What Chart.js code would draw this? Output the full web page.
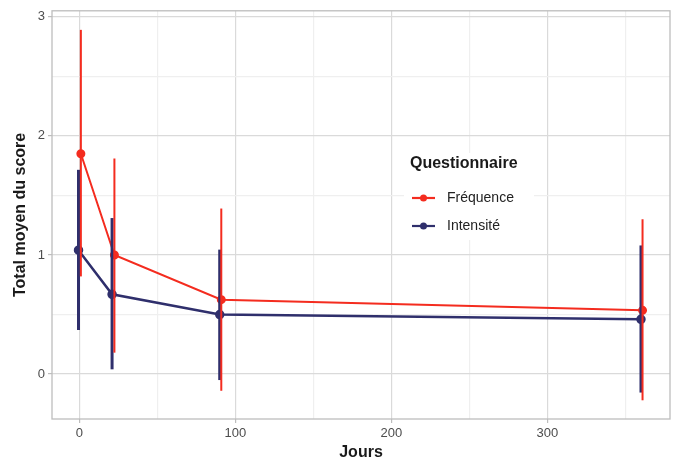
<!DOCTYPE html>
<html>
<head>
<meta charset="utf-8">
<script src="https://cdn.jsdelivr.net/npm/chart.js@4/dist/chart.umd.min.js"></script>
<style>
html,body{margin:0;padding:0;background:#fff;}
#wrap{width:677px;height:467px;}
</style>
</head>
<body>
<div id="wrap"><canvas id="c" width="677" height="467"></canvas></div>
<script>
// ---- data ----
const seriesNames = ["Fréquence", "Intensité"];
const legendTitle = "Questionnaire";
const xTitle = "Jours";
const yTitle = "Total moyen du score";

const freqDays = [1, 22.5, 91, 361];
const freqMean = [1.85, 1.00, 0.625, 0.535];
const freqLow  = [0.82, 0.18, -0.14, -0.22];
const freqHigh = [2.89, 1.81, 1.39, 1.30];

const intDays = [-0.5, 21, 90, 360];
const intMean = [1.04, 0.67, 0.50, 0.46];
const intLow  = [0.37, 0.04, -0.05, -0.155];
const intHigh = [1.715, 1.31, 1.045, 1.08];

const xTicks = [0, 50, 100, 150, 200, 250, 300, 350];
const yTicks = [0, 0.5, 1, 1.5, 2, 2.5, 3];

// ---- style ----
const RED = "#F42C1F";
const NAVY = "#2F2F6C";
const FONT = "'Liberation Sans', Arial, sans-serif";
const MAJOR = "#DADADA";
const MINOR = "#EFEFEF";

const errLow = [freqLow, intLow];
const errHigh = [freqHigh, intHigh];
const errWidth = [2, 3];

const errorBars = {
  id: 'errorBars',
  beforeDatasetsDraw(chart) {
    const ctx = chart.ctx, ys = chart.scales.y;
    // panel border
    const a = chart.chartArea;
    ctx.save();
    ctx.strokeStyle = "#BDBDBD";
    ctx.lineWidth = 1.3;
    ctx.strokeRect(a.left, a.top, a.right - a.left, a.bottom - a.top);
    ctx.restore();
  },
  afterDatasetsDraw(chart) {
    const ctx = chart.ctx, ys = chart.scales.y;
    [1, 0].forEach(di => {
      const meta = chart.getDatasetMeta(di);
      ctx.save();
      ctx.strokeStyle = chart.data.datasets[di].borderColor;
      ctx.lineWidth = errWidth[di];
      meta.data.forEach((pt, i) => {
        ctx.beginPath();
        ctx.moveTo(pt.x, ys.getPixelForValue(errLow[di][i]));
        ctx.lineTo(pt.x, ys.getPixelForValue(errHigh[di][i]));
        ctx.stroke();
      });
      ctx.restore();
    });
  }
};

const legendBox = {
  id: 'legendBox',
  afterDraw(chart) {
    const ctx = chart.ctx;
    ctx.save();
    ctx.fillStyle = "#fff";
    ctx.fillRect(404, 153, 130, 87);
    ctx.fillStyle = "#1a1a1a";
    ctx.font = "bold 16px " + FONT;
    ctx.textBaseline = "middle";
    ctx.textAlign = "left";
    ctx.fillText(legendTitle, 410, 164);
    const ys = [198, 226];
    chart.data.datasets.forEach((ds, i) => {
      const y = ys[i];
      ctx.strokeStyle = ds.borderColor;
      ctx.lineWidth = 2.2;
      ctx.beginPath(); ctx.moveTo(412, y); ctx.lineTo(435, y); ctx.stroke();
      ctx.fillStyle = ds.borderColor;
      ctx.beginPath(); ctx.arc(423.5, y, 3.5, 0, Math.PI * 2); ctx.fill();
      ctx.fillStyle = "#222";
      ctx.font = "14px " + FONT;
      ctx.fillText(ds.label, 447, y);
    });
    ctx.restore();
  }
};

new Chart(document.getElementById('c'), {
  type: 'scatter',
  data: {
    datasets: [
      {
        label: seriesNames[0],
        data: freqDays.map((d, i) => ({x: d, y: freqMean[i]})),
        showLine: true, borderColor: RED, backgroundColor: RED,
        borderWidth: 2, pointRadius: 3.5, pointHoverRadius: 3.5, tension: 0
      },
      {
        label: seriesNames[1],
        data: intDays.map((d, i) => ({x: d, y: intMean[i]})),
        showLine: true, borderColor: NAVY, backgroundColor: NAVY,
        borderWidth: 2.5, pointRadius: 3.5, pointHoverRadius: 3.5, tension: 0
      }
    ]
  },
  options: {
    responsive: false,
    animation: false,
    events: [],
    layout: {padding: {top: 9, right: 7, left: 0, bottom: 0}},
    plugins: {legend: {display: false}, tooltip: {enabled: false}},
    scales: {
      x: {
        type: 'linear', min: -17.5, max: 378.6,
        afterBuildTicks(s) { s.ticks = xTicks.map(v => ({value: v})); },
        afterFit(s) { s.height = 48; },
        grid: {
          color: c => (c.tick && c.tick.value % 100 === 0) ? MAJOR : MINOR,
          tickColor: c => (c.tick && c.tick.value % 100 === 0) ? "#BDBDBD" : "rgba(0,0,0,0)",
          tickLength: 4, lineWidth: 1.2
        },
        border: {display: false},
        ticks: {
          autoSkip: false, maxRotation: 0, padding: 3,
          color: "#4D4D4D", font: {family: FONT, size: 13},
          callback: v => (v % 100 === 0 ? String(v) : '')
        },
        title: {display: true, text: xTitle, color: "#1a1a1a",
          font: {family: FONT, size: 16, weight: 'bold'}, padding: {top: 0, bottom: 5}}
      },
      y: {
        type: 'linear', min: -0.377, max: 3.05,
        afterBuildTicks(s) { s.ticks = yTicks.map(v => ({value: v})); },
        afterFit(s) { s.width = 52; },
        grid: {
          color: c => (c.tick && c.tick.value % 1 === 0) ? MAJOR : MINOR,
          tickColor: c => (c.tick && c.tick.value % 1 === 0) ? "#BDBDBD" : "rgba(0,0,0,0)",
          tickLength: 4, lineWidth: 1.2
        },
        border: {display: false},
        ticks: {
          autoSkip: false, padding: 3,
          color: "#4D4D4D", font: {family: FONT, size: 13},
          callback: v => (v % 1 === 0 ? String(v) : '')
        },
        title: {display: true, text: yTitle, color: "#1a1a1a",
          font: {family: FONT, size: 16, weight: 'bold'}, padding: {top: 11, bottom: 0}}
      }
    }
  },
  plugins: [errorBars, legendBox]
});
</script>
</body>
</html>
